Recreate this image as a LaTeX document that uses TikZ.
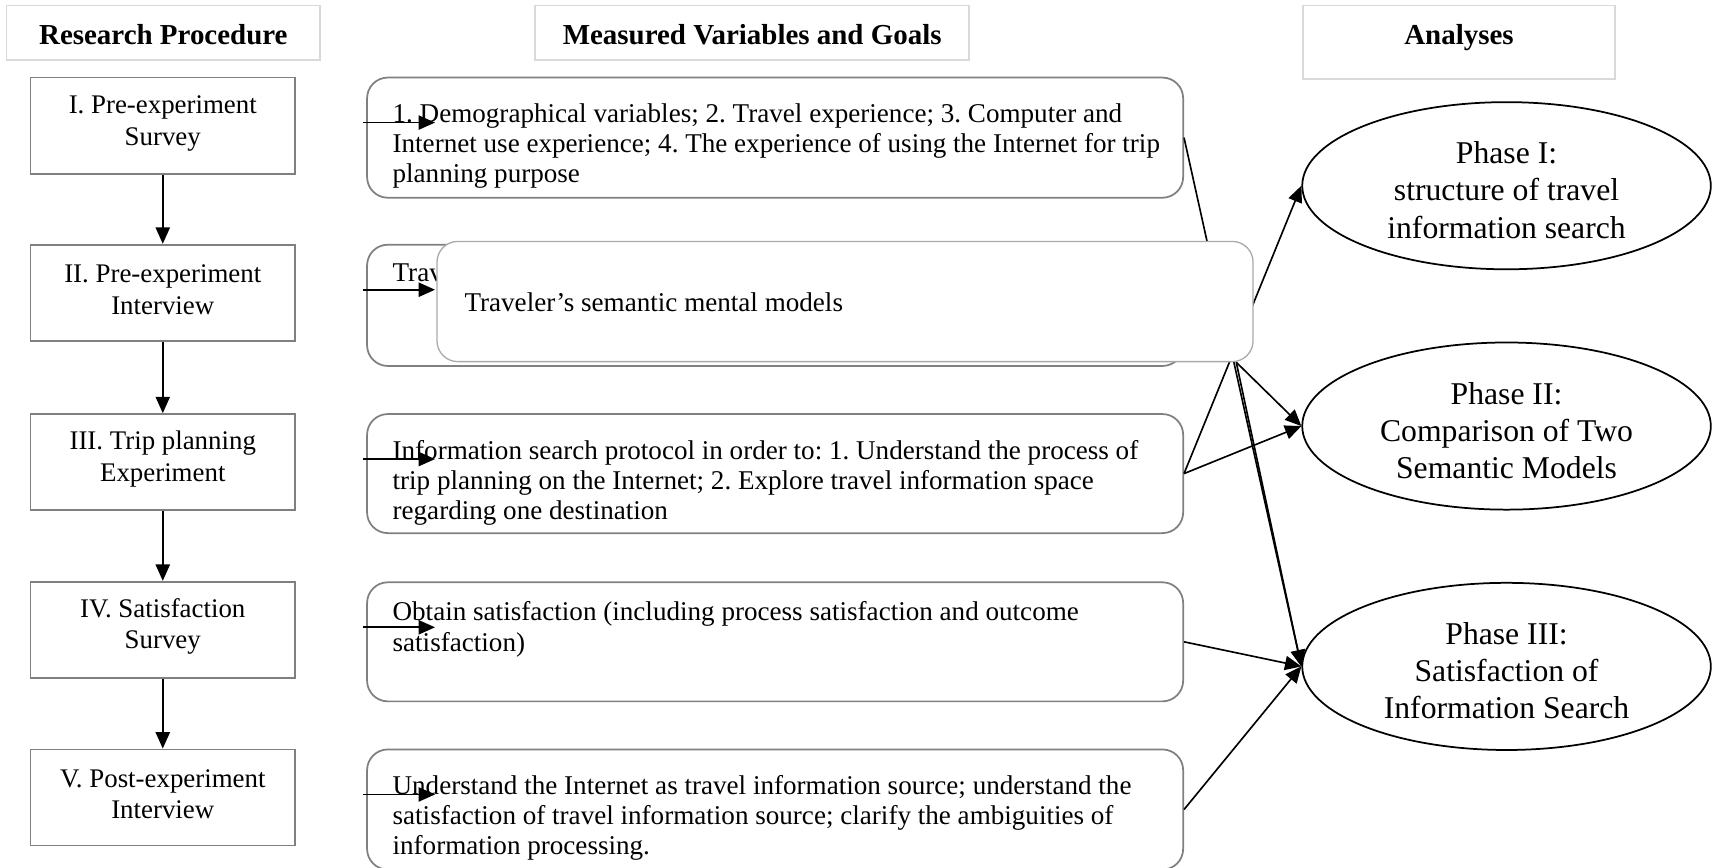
\documentclass[tikz,border=0pt]{standalone}
\usepackage{fontspec}
\setmainfont{Liberation Serif}
\usetikzlibrary{arrows.meta,shapes.geometric,calc}
\definecolor{hdrline}{RGB}{217,217,217}
\definecolor{boxline}{RGB}{128,128,128}
\definecolor{ovline}{RGB}{170,170,170}
\frenchspacing
\begin{document}
\begin{tikzpicture}[x=1pt,y=-1pt,
  hdrbox/.style={draw=hdrline, line width=1.6pt, inner sep=0pt, fill=white},
  hdrtext/.style={font=\fontsize{26.5}{30}\selectfont\bfseries, inner sep=0pt},
  stepbox/.style={draw=boxline, line width=1.6pt, minimum width=242pt, minimum height=88pt,
    inner sep=0pt},
  steptext/.style={align=center, font=\fontsize{24.6}{29}\selectfont, inner sep=0pt},
  goalbox/.style={draw=boxline, line width=1.6pt, rounded corners=19pt, minimum width=747pt,
    inner sep=0pt, fill=white},
  overbox/.style={draw=ovline, line width=1.2pt, rounded corners=19pt, minimum width=747pt,
    minimum height=110pt, inner sep=0pt, fill=white},
  goaltext/.style={font=\fontsize{24.8}{27.5}\selectfont, align=left, inner sep=0pt, anchor=north west},
  phase/.style={ellipse, draw, line width=1.6pt, minimum width=374pt, minimum height=153pt,
    inner sep=0pt},
  phasetext/.style={align=center, font=\fontsize{29}{34}\selectfont, inner sep=0pt},
  link/.style={line width=1.5pt, -{Triangle[length=15pt,width=13pt]}}
]
\useasboundingbox (0,0) rectangle (1568,794);

% column headers
\node[hdrbox, minimum width=287pt, minimum height=50pt] (h1) at (149.5,30) {};
\node[hdrtext] (h1t) at (149.5,32) {Research Procedure};
\node[hdrbox, minimum width=397pt, minimum height=50pt] (h2) at (688.5,30) {};
\node[hdrtext] (h2t) at (688.5,32) {Measured Variables and Goals};
\node[hdrbox, minimum width=285pt, minimum height=67pt] (h3) at (1335.5,38.5) {};
\node[hdrtext] (h3t) at (1335.5,34) {Analyses};

% research procedure steps
\node[stepbox] (l1) at (149,115) {};
\node[stepbox] (l2) at (149,268) {};
\node[stepbox] (l3) at (149,423) {};
\node[stepbox] (l4) at (149,576.5) {};
\node[stepbox] (l5) at (149,730) {};
\node[steptext] (l1t) at ($(l1.center)+(0,-2)$) {I. Pre-experiment\\Survey};
\node[steptext] (l2t) at ($(l2.center)+(0,-3)$) {II. Pre-experiment\\Interview};
\node[steptext] (l3t) at ($(l3.center)+(0,-3)$) {III. Trip planning\\Experiment};
\node[steptext] (l4t) at ($(l4.center)+(0,-3)$) {IV. Satisfaction\\Survey};
\node[steptext] (l5t) at ($(l5.center)+(0,-3)$) {V. Post-experiment\\Interview};
\draw[link] (l1) -- (l2);
\draw[link] (l2) -- (l3);
\draw[link] (l3) -- (l4);
\draw[link] (l4) -- (l5);

% measured variables and goals
\node[goalbox, minimum height=110pt] (m1) at (709.5,126) {};
\node[goalbox, minimum height=111pt] (m2) at (709.5,279.5) {};
\node[goalbox, minimum height=109pt] (m3) at (709.5,433.5) {};
\node[goalbox, minimum height=109pt] (m4) at (709.5,587.5) {};
\node[goalbox, minimum height=110pt] (m5) at (709.5,741) {};

\node[goaltext] (m1t) at ($(m1.north west)+(24,24)$)
  {\rule{0pt}{18pt}1. Demographical variables; 2. Travel experience; 3. Computer and\\
   Internet use experience; 4. The experience of using the Internet for trip\\
   planning purpose};
\node[goaltext] (m2t) at ($(m2.north west)+(24,16)$)
  {\rule{0pt}{18pt}Traveler’s semantic mental models};
\node[goaltext] (m3t) at ($(m3.north west)+(24,24)$)
  {\rule{0pt}{18pt}Information search protocol in order to: 1. Understand the process of\\
   trip planning on the Internet; 2. Explore travel information space\\
   regarding one destination};
\node[goaltext] (m4t) at ($(m4.north west)+(24,18)$)
  {\rule{0pt}{18pt}Obtain satisfaction (including process satisfaction and outcome\\
   satisfaction)};
\node[goaltext] (m5t) at ($(m5.north west)+(24,24)$)
  {\rule{0pt}{18pt}Understand the Internet as travel information source; understand the\\
   satisfaction of travel information source; clarify the ambiguities of\\
   information processing.};

% short arrows entering each goal box
\foreach \i in {1,...,5}{
  \coordinate (s\i) at ($(m\i.north west)+(-3,42)$);
  \coordinate (e\i) at ($(m\i.north west)+(63,42)$);
  \draw[link] (s\i) -- (e\i);
}

% analyses
\node[phase] (p1) at (1379,170) {};
\node[phasetext] (p1t) at (1379,174) {Phase I:\\structure of travel\\information search};
\node[phase] (p2) at (1379,390) {};
\node[phasetext] (p2t) at (1379,394) {Phase II:\\Comparison of Two\\Semantic Models};
\node[phase] (p3) at (1379,610) {};
\node[phasetext] (p3t) at (1379,614) {Phase III:\\Satisfaction of\\Information Search};

% links that run beneath the mental-model box
\draw[link] (m1.east) -- (p3.west);
\draw[link] (m3.east) -- (p1.west);

% mental-model box laid over the second goal box
\node[overbox] (ov) at (773.5,276) {};
\node[font=\fontsize{24.8}{27.5}\selectfont, inner sep=0pt, anchor=base west] (ovt) at (425,285)
  {Traveler’s semantic mental models};
\coordinate (ovfoot) at ([xshift=-16pt]ov.south east);

% remaining links to the analyses
\draw[link] (m3.east) -- (p2.west);
\draw[link] (ovfoot) -- (p2.west);
\draw[link] (ovfoot) -- (p3.west);
\draw[link] (m4.east) -- (p3.west);
\draw[link] (m5.east) -- (p3.west);
\end{tikzpicture}
\end{document}
